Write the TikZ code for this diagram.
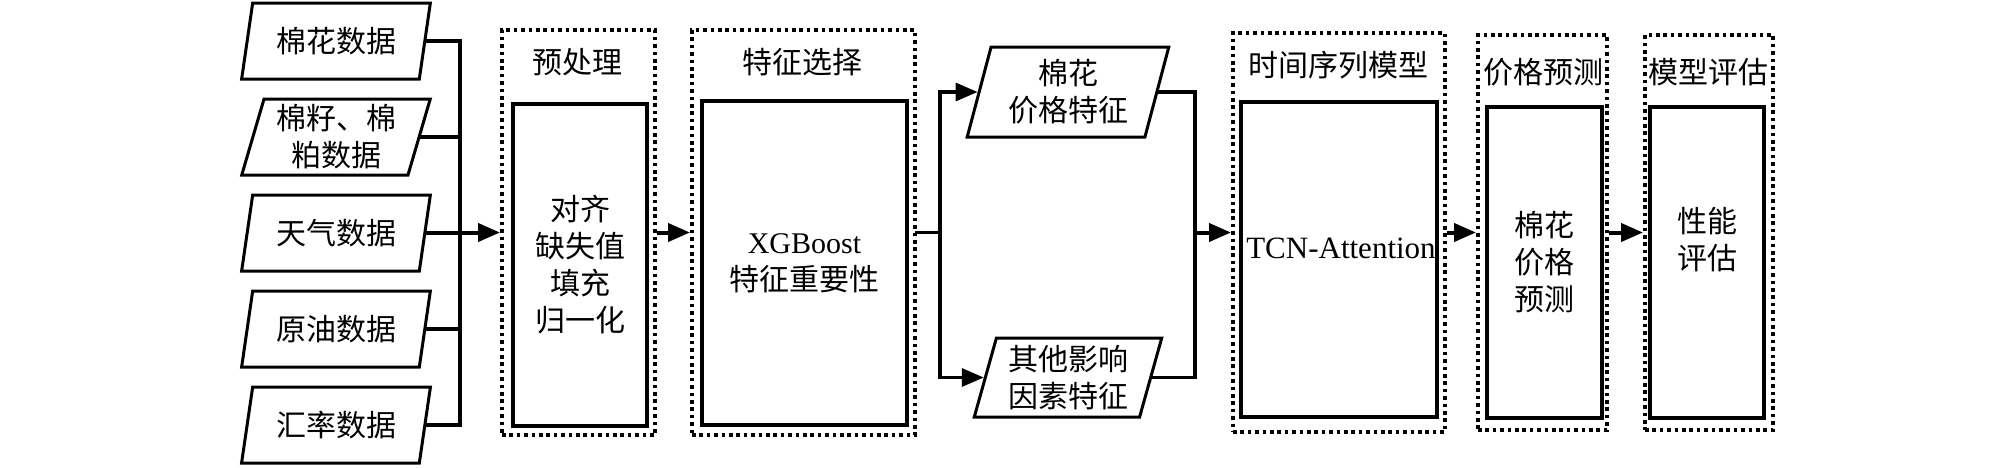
\documentclass[tikz,border=0pt]{standalone}
\usepackage{fontspec}
\setmainfont{Liberation Serif}
\newfontfamily\cjk{Noto Sans CJK SC}
\usetikzlibrary{shapes.geometric, positioning, arrows.meta}

\tikzset{
  zh/.style={font=\cjk\fontsize{15}{18.5}\selectfont},
  datain/.style={zh, draw, line width=1.5pt, trapezium, trapezium left angle=74,
    trapezium right angle=106, trapezium stretches=true, inner sep=0pt,
    minimum width=94.5pt, minimum height=38pt, align=center},
  stage/.style={draw, line width=2pt, dash pattern=on 1.8pt off 1.9pt},
  inner/.style={zh, draw, line width=1.8pt, align=center},
  title/.style={zh},
  link/.style={line width=1.6pt, line cap=rect},
  flow/.style={line width=2pt, -{Triangle[length=11pt,width=9pt]}},
  feed/.style={line width=1.6pt, -{Triangle[length=11pt,width=9pt]}},
}

\begin{document}
\begin{tikzpicture}[x=0.5pt, y=-0.5pt, node distance=48pt, on grid]
  \useasboundingbox (0,0) rectangle (2008,467);

  % data sources
  \node[datain] (cotton) at (336,41) {棉花数据};
  \node[datain] (seed) [below=of cotton] {棉籽、棉\\粕数据};
  \node[datain] (weather) [below=of seed] {天气数据};
  \node[datain] (oil) [below=of weather] {原油数据};
  \node[datain] (rate) [below=of oil] {汇率数据};

  % preprocessing
  \node[stage, minimum width=76.5pt, minimum height=202.5pt] (pre) at (578.5,232.5) {};
  \node[title] (pretitle) at (577,62) {预处理};
  \node[inner, minimum width=67pt, minimum height=161pt] (prebox) at (580,265) {对齐\\缺失值\\填充\\归一化};

  % feature selection
  \node[stage, minimum width=111.5pt, minimum height=202.5pt] (feat) at (803.5,232.5) {};
  \node[title] (feattitle) at (802,62) {特征选择};
  \node[inner, minimum width=102.5pt, minimum height=162pt] (featbox) at (804.5,263) {{\rmfamily XGBoost}\\特征重要性};

  % selected features
  \node[datain, minimum width=101pt, minimum height=45pt] (pricefeat) at (1068,92) {棉花\\价格特征};
  \node[datain, minimum width=94pt, minimum height=39.5pt] (otherfeat) at (1068,377.5) {其他影响\\因素特征};

  % model
  \node[stage, minimum width=106pt, minimum height=199.5pt] (tcn) at (1339,232.5) {};
  \node[title] (tcntitle) at (1338,65) {时间序列模型};
  \node[inner, minimum width=98pt, minimum height=157.5pt] (tcnbox) at (1339,259.5) {};
  \node[font=\fontsize{15.5}{18.5}\selectfont] (tcntxt) at (1341,248) {TCN-Attention};

  % prediction
  \node[stage, minimum width=64.5pt, minimum height=197.5pt] (price) at (1542.5,232.5) {};
  \node[title] (pricetitle) at (1543,72) {价格预测};
  \node[inner, minimum width=57.5pt, minimum height=155.5pt] (pricebox) at (1544.5,262.5) {棉花\\价格\\预测};

  % evaluation
  \node[stage, minimum width=64pt, minimum height=197.5pt] (eval) at (1709,232.5) {};
  \node[title] (evaltitle) at (1708,72) {模型评估};
  \node[inner, minimum width=57pt, minimum height=155.5pt] (evalbox) at (1707,262.5) {};
  \node[zh, align=center] (evaltxt) at (1707,240) {性能\\评估};

  % connections
  \coordinate (join1) at (460,232.5);
  \foreach \src in {cotton,seed,weather,oil,rate}
    \draw[link] (\src.east) -- (\src.east -| join1);
  \draw[link] (cotton.east -| join1) -- (rate.east -| join1);
  \draw[flow] (join1) -- (pre.west);
  \draw[flow] (pre.east) -- (feat.west);

  \coordinate (join2) at (940,232.5);
  \draw[link] (feat.east) -- (join2);
  \draw[link] (join2 |- pricefeat.west) -- (join2 |- otherfeat.west);
  \draw[feed] (join2 |- pricefeat.west) -- (pricefeat.west);
  \draw[feed] (join2 |- otherfeat.west) -- (otherfeat.west);

  \coordinate (join3) at (1195,232.5);
  \draw[link] (pricefeat.east) -- (pricefeat.east -| join3) -- (otherfeat.east -| join3) -- (otherfeat.east);
  \draw[flow] (join3) -- (tcn.west);
  \draw[flow] (tcn.east) -- (price.west);
  \draw[flow] (price.east) -- (eval.west);
\end{tikzpicture}
\end{document}
